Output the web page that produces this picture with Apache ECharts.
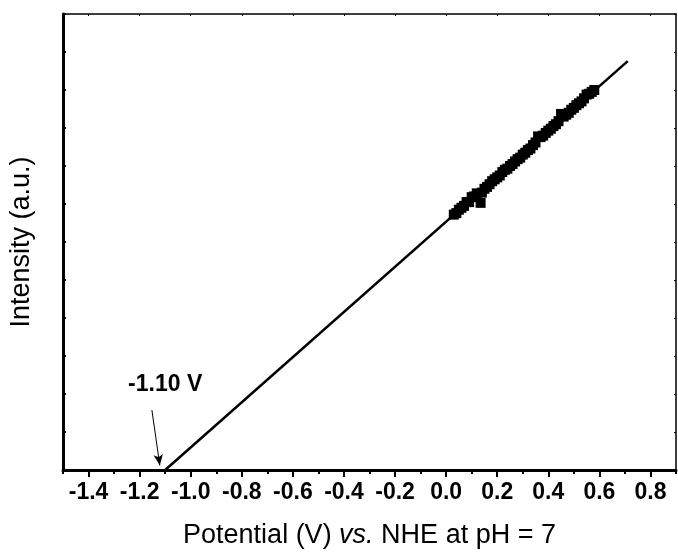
<!DOCTYPE html>
<html>
<head>
<meta charset="utf-8">
<script src="https://cdn.jsdelivr.net/npm/echarts@6/dist/echarts.min.js"></script>
<style>html,body{margin:0;padding:0;background:#fff}#c{width:678px;height:557px}</style>
</head>
<body>
<div id="c"></div>
<script>
// Data
var pointX = [0.03,0.04,0.05,0.06,0.07,0.08,0.09,0.10,0.11,0.12,0.135,0.14,0.15,0.16,0.17,0.18,0.19,0.20,0.21,0.22,0.23,0.24,0.25,0.26,0.27,0.28,0.29,0.30,0.31,0.32,0.33,0.34,0.35,0.36,0.37,0.38,0.39,0.40,0.41,0.42,0.43,0.44,0.45,0.46,0.47,0.48,0.49,0.50,0.51,0.52,0.53,0.54,0.55,0.56,0.57,0.58];
var pointY = [0.672,0.676,0.685,0.690,0.695,0.705,0.705,0.718,0.720,0.728,0.703,0.730,0.740,0.745,0.752,0.760,0.765,0.770,0.775,0.784,0.790,0.793,0.800,0.805,0.812,0.818,0.822,0.830,0.835,0.842,0.846,0.855,0.862,0.878,0.876,0.880,0.887,0.893,0.898,0.905,0.910,0.918,0.937,0.930,0.935,0.940,0.948,0.953,0.960,0.965,0.970,0.978,0.988,0.990,0.995,1.000];
var fitX = [-1.10, 0.711];
var fitY = [0, 1.076];
var tickLabels = [-1.4,-1.2,-1.0,-0.8,-0.6,-0.4,-0.2,0.0,0.2,0.4,0.6,0.8];
var annotationText = '-1.10 V';
var arrowFrom = [-1.152, 0.158];
var arrowTo = [-1.121, 0.012];
var labelPos = [-1.100, 0.224];

var scatterData = pointX.map(function(x, i){ return [x, pointY[i]]; });
var fitData = fitX.map(function(x, i){ return [x, fitY[i]]; });

var chart = echarts.init(document.getElementById('c'), null, {renderer: 'canvas'});
var font = 'Liberation Sans, Arial, sans-serif';
chart.setOption({
  animation: false,
  backgroundColor: '#fff',
  grid: {left: 63, right: 2, top: 14, bottom: 87},
  xAxis: [{
    type: 'value', min: -1.5, max: 0.9, interval: 0.1, position: 'bottom',
    axisLine: {show: true, onZero: false, lineStyle: {color: '#000', width: 3}},
    axisTick: {show: true, inside: false, length: 4, lineStyle: {color: '#000', width: 2}},
    splitLine: {show: false},
    axisLabel: {show: false},
    name: '{a|Potential (V) }{b|vs.}{a| NHE at pH = 7}',
    nameLocation: 'middle', nameGap: 52,
    nameTextStyle: {rich: {
      a: {fontFamily: font, fontSize: 27, color: '#000'},
      b: {fontFamily: font, fontSize: 27, color: '#000', fontStyle: 'italic'}
    }}
  }, {
    type: 'value', min: -1.5, max: 0.9, interval: 0.1, position: 'bottom', offset: 0,
    axisLine: {show: false, onZero: false},
    axisTick: {show: true, inside: false, length: 7, customValues: tickLabels, lineStyle: {color: '#000', width: 2}},
    splitLine: {show: false},
    axisLabel: {
      show: true, customValues: tickLabels,
      color: '#000', fontFamily: font, fontWeight: 'bold', fontSize: 23, margin: 11,
      formatter: function(v){ return Number(v).toFixed(1); }
    }
  }, {
    type: 'value', min: -1.5, max: 0.9, interval: 0.2, position: 'top',
    axisLine: {show: true, onZero: false, lineStyle: {color: '#000', width: 1.5}},
    axisTick: {show: true, inside: true, length: 2, customValues: tickLabels, lineStyle: {color: '#000', width: 1}},
    axisLabel: {show: false}, splitLine: {show: false}
  }],
  yAxis: [{
    type: 'value', min: 0, max: 1.2, interval: 0.1, position: 'left',
    axisLine: {show: true, onZero: false, lineStyle: {color: '#000', width: 3}},
    axisTick: {show: true, inside: true, length: 3, lineStyle: {color: '#000', width: 2}},
    axisLabel: {show: false}, splitLine: {show: false},
    name: 'Intensity (a.u.)', nameLocation: 'middle', nameGap: 28, nameRotate: 90,
    nameTextStyle: {fontFamily: font, fontSize: 27, color: '#000'}
  }, {
    type: 'value', min: 0, max: 1.2, interval: 0.1, position: 'right',
    axisLine: {show: true, onZero: false, lineStyle: {color: '#000', width: 1.5}},
    axisTick: {show: true, inside: true, length: 2, lineStyle: {color: '#000', width: 1}},
    axisLabel: {show: false}, splitLine: {show: false}
  }],
  series: [{
    type: 'line', data: fitData, showSymbol: false, symbol: 'none',
    lineStyle: {color: '#000', width: 2.5}, z: 3,
    markLine: {
      silent: true, symbol: ['none', 'arrow'], symbolSize: [7, 11],
      lineStyle: {color: '#000', width: 1, type: 'solid'},
      label: {show: false},
      data: [[{coord: arrowFrom}, {coord: arrowTo}]]
    },
    markPoint: {
      silent: true, symbol: 'rect', symbolSize: 1,
      itemStyle: {color: 'rgba(0,0,0,0)'},
      label: {show: true, position: 'inside', formatter: annotationText, color: '#000',
        fontFamily: font, fontWeight: 'bold', fontSize: 23},
      data: [{coord: labelPos}]
    }
  }, {
    type: 'scatter', data: scatterData, symbol: 'rect', symbolSize: 10,
    itemStyle: {color: '#000', opacity: 1}, z: 4
  }]
});
</script>
</body>
</html>
